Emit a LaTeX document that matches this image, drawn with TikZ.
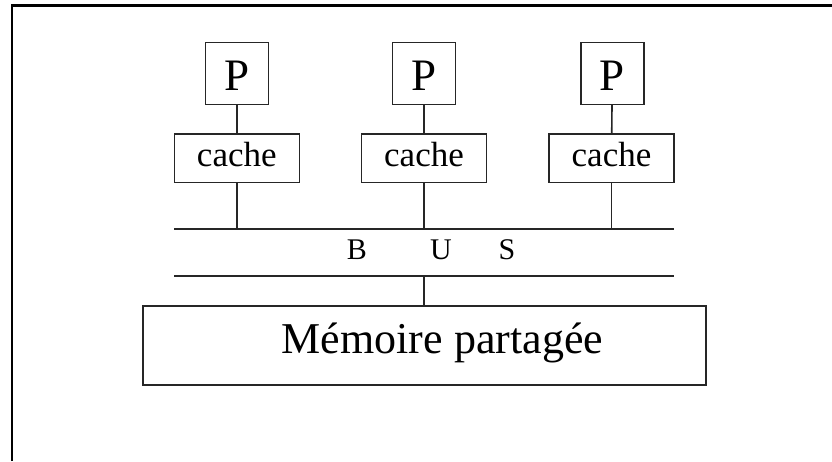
\documentclass[tikz,border=0pt]{standalone}
\usepackage{fontspec}
\setmainfont{Liberation Serif}
\begin{document}
\begin{tikzpicture}[x=1pt,y=-1pt,
  box/.style={draw=black!85, line width=1.6pt, inner sep=0pt, fill=white},
  pbox/.style={box, minimum width=63pt, minimum height=62pt,
    font=\fontsize{45}{50}\selectfont, text height=34pt, text depth=0pt},
  cachebox/.style={box, minimum width=125pt, minimum height=48.7pt,
    font=\fontsize{35}{40}\selectfont, text height=16.8pt, text depth=0pt},
  membox/.style={box, minimum width=563pt, minimum height=79pt,
    font=\fontsize{44}{48}\selectfont, text height=15.6pt, text depth=0pt},
  wire/.style={draw=black!85, line width=1.6pt},
  frameline/.style={draw=black, line width=2.2pt}
]
\useasboundingbox (0,0) rectangle (832,461);
% outer frame (top and left edges only)
\draw[frameline] (12,461) -- (12,5.5) -- (832,5.5);

% processors
\node[pbox] (p1) at (236.8,73.4) {P};
\node[pbox] (p2) at (424.0,73.4) {P};
\node[pbox] (p3) at (612.3,73.4) {P};

% caches
\node[cachebox] (c1) at (236.8,158.3) {cache};
\node[cachebox] (c2) at (424.0,158.3) {cache};
\node[cachebox] (c3) at (611.5,158.3) {cache};

% bus
\coordinate (btl) at (174,228.7);
\coordinate (btr) at (674,228.7);
\coordinate (bbl) at (174,276);
\coordinate (bbr) at (674,276);
\draw[wire] (btl) -- (btr);
\draw[wire] (bbl) -- (bbr);
\node[anchor=base west, inner sep=0pt, font=\fontsize{30}{34}\selectfont] (bus) at (346.7,259)
  {B\hspace{63.3pt}U\hspace{46.7pt}S};

% memory
\node[membox] (mem) at (424.5,345.5) {\hspace*{36pt}Mémoire partagée};

% connectors
\draw[wire] (p1) -- (c1);
\draw[wire] (p2) -- (c2);
\draw[wire] (p3) -- (c3);
\draw[wire] (c1) -- (c1 |- btl);
\draw[wire] (c2) -- (c2 |- btl);
\draw[wire] (c3) -- (c3 |- btl);
\draw[wire] (mem.north -| c2) -- (c2 |- bbl);
\end{tikzpicture}
\end{document}
